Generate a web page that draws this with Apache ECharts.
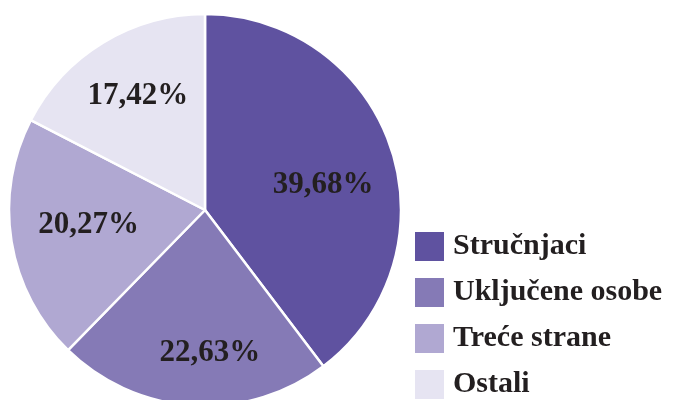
<!DOCTYPE html>
<html>
<head>
<meta charset="utf-8">
<script src="https://cdn.jsdelivr.net/npm/echarts@6/dist/echarts.min.js"></script>
<style>
  html, body { margin: 0; padding: 0; background: #fff; }
  #chart { width: 678px; height: 400px; }
</style>
</head>
<body>
<div id="chart"></div>
<script>
// shares of each group, in percent
const categories = ['Stručnjaci', 'Uključene osobe', 'Treće strane', 'Ostali'];
const shares = [39.68, 22.63, 20.27, 17.42];
const colors = ['#5f52a0', '#857ab6', '#b0a8d2', '#e6e4f2'];
// small per-label nudges so the labels sit where the original put them
const labelNudge = [[-6, 17], [13, 12], [13, -6], [1, -2]];

const FONT = '"Liberation Serif", "DejaVu Serif", serif';
const TEXT = '#231f20';

const chart = echarts.init(document.getElementById('chart'), null, { renderer: 'canvas' });

chart.setOption({
  animation: false,
  legend: {
    orient: 'vertical',
    left: 413,
    top: 230,
    height: 260,
    padding: 0,
    itemWidth: 31,
    itemHeight: 31,
    itemGap: 13,
    icon: 'rect',
    data: categories,
    textStyle: {
      fontFamily: FONT, fontWeight: 'bold', fontSize: 30,
      lineHeight: 31, color: TEXT, padding: [0, 0, 0, 3]
    }
  },
  series: [
    {
      // visible slices
      type: 'pie',
      center: [205, 210],
      radius: [0, 196],
      startAngle: 90,
      clockwise: true,
      silent: true,
      itemStyle: { borderColor: '#fff', borderWidth: 2.5 },
      label: { show: false },
      labelLine: { show: false },
      data: categories.map((name, i) => ({
        name, value: shares[i], itemStyle: { color: colors[i] }
      }))
    },
    {
      // transparent pie used only to place labels farther out
      type: 'pie',
      center: [205, 210],
      radius: [0, 256],
      startAngle: 90,
      clockwise: true,
      silent: true,
      itemStyle: { color: 'rgba(0,0,0,0)', borderWidth: 0 },
      label: {
        show: true,
        position: 'inside',
        fontFamily: FONT,
        fontWeight: 'bold',
        fontSize: 31,
        color: TEXT,
        formatter: p => p.value.toFixed(2).replace('.', ',') + '%'
      },
      labelLine: { show: false },
      data: categories.map((name, i) => ({
        name, value: shares[i], label: { offset: labelNudge[i] }
      }))
    }
  ]
});
</script>
</body>
</html>
